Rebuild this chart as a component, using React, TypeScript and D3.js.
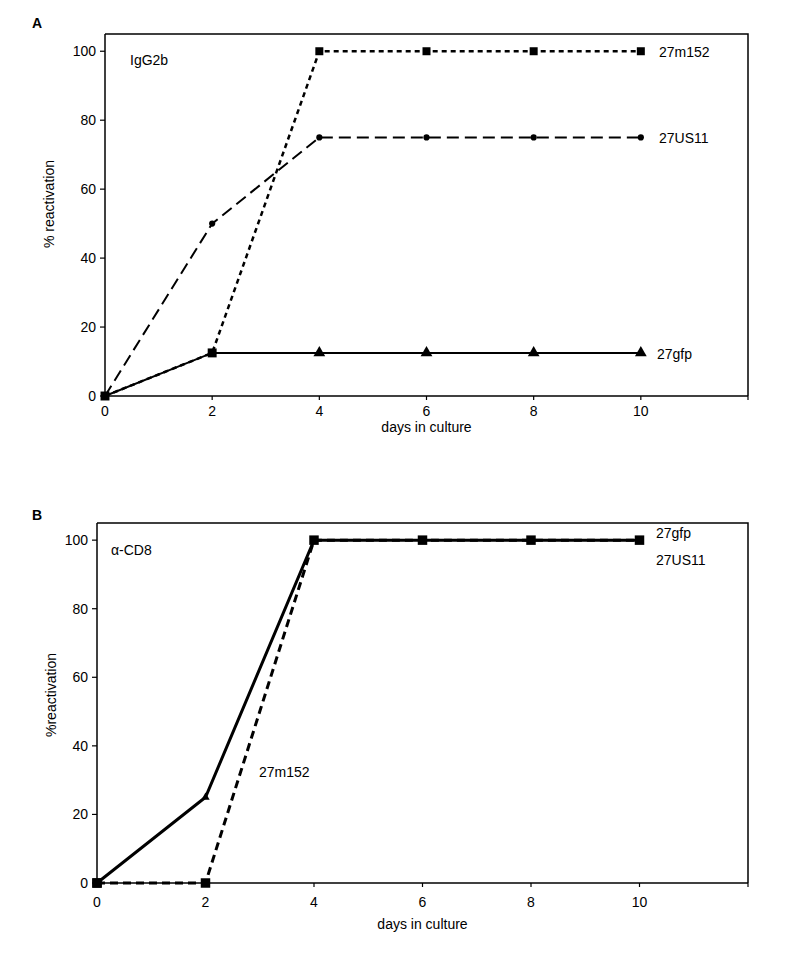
import React from "react";
import * as d3 from "d3";

const days = [0, 2, 4, 6, 8, 10];
const xTicks = [0, 2, 4, 6, 8, 10, 12];
const yTicks = [0, 20, 40, 60, 80, 100];

// Panel A (IgG2b)
const aM152 = [0, 12.5, 100, 100, 100, 100];
const aUS11 = [0, 50, 75, 75, 75, 75];
const aGfp = [0, 12.5, 12.5, 12.5, 12.5, 12.5];
const aNames = ["27m152", "27US11", "27gfp"];

// Panel B (alpha-CD8)
const bGfpUS11 = [0, 25, 100, 100, 100, 100];
const bM152 = [0, 0, 100, 100, 100, 100];
const bNames = ["27gfp", "27US11", "27m152"];

const FONT = "'Liberation Sans', Arial, Helvetica, sans-serif";
const FS = 14;

type Series = {
  values: number[];
  dash: string;
  width: number;
  markers: string[];
  msize: number[];
};

function marker(type: string, size: number) {
  if (type === "none") return null;
  const sym =
    type === "square" ? d3.symbolSquare : type === "triangle" ? d3.symbolTriangle : d3.symbolCircle;
  return d3.symbol().type(sym).size(size)() as string;
}

function Panel(props: {
  x0: number; x1: number; y0: number; y1: number;
  series: Series[];
  letter: string; letterPos: [number, number];
  tag: string; tagPos: [number, number];
  labels: { text: string; x: number; y: number }[];
  yTitle: string; yTitlePos: [number, number];
  xTitleY: number;
  tickOff: number;
}) {
  const x = d3.scaleLinear().domain([0, 12]).range([props.x0, props.x1]);
  const y = d3.scaleLinear().domain([0, 105]).range([props.y0, props.y1]);
  const line = d3.line<number>().x((_, i) => x(days[i])).y((v) => y(v));
  return (
    <g>
      <text x={props.letterPos[0]} y={props.letterPos[1]} fontFamily={FONT} fontSize={14} fontWeight="bold">
        {props.letter}
      </text>
      <path
        d={`M${x(0)},${y(105)}H${x(12)}V${y(0)}`}
        fill="none" stroke="#000" strokeWidth={1.5}
      />
      <line x1={x(0)} x2={x(0)} y1={y(105)} y2={y(0)} stroke="#000" strokeWidth={1.5} />
      <line x1={x(0)} x2={x(12)} y1={y(0)} y2={y(0)} stroke="#000" strokeWidth={1.5} />
      {xTicks.map((t) => (
        <g key={"xt" + t}>
          <line x1={x(t)} x2={x(t)} y1={y(0)} y2={y(0) + 4} stroke="#000" strokeWidth={1.2} />
          {t <= 10 && (
            <text x={x(t)} y={y(0) + props.tickOff} textAnchor="middle" fontFamily={FONT} fontSize={FS}>
              {t}
            </text>
          )}
        </g>
      ))}
      {yTicks.map((t) => (
        <g key={"yt" + t}>
          <line x1={x(0) - 5} x2={x(0)} y1={y(t)} y2={y(t)} stroke="#000" strokeWidth={1.2} />
          <text x={x(0) - 9} y={y(t) + 5} textAnchor="end" fontFamily={FONT} fontSize={FS}>
            {t}
          </text>
        </g>
      ))}
      <text
        transform={`translate(${props.yTitlePos[0]},${props.yTitlePos[1]}) rotate(-90)`}
        textAnchor="middle" fontFamily={FONT} fontSize={FS}
      >
        {props.yTitle}
      </text>
      <text x={(x(0) + x(12)) / 2} y={props.xTitleY} textAnchor="middle" fontFamily={FONT} fontSize={FS}>
        days in culture
      </text>
      <text x={props.tagPos[0]} y={props.tagPos[1]} fontFamily={FONT} fontSize={FS}>
        {props.tag}
      </text>
      {props.series.map((s, si) => (
        <path
          key={"l" + si}
          d={line(s.values) as string}
          fill="none" stroke="#000" strokeWidth={s.width}
          strokeDasharray={s.dash}
        />
      ))}
      {props.series.map((s, si) =>
        s.values.map((v, i) => {
          const d = marker(s.markers[i], s.msize[i]);
          if (!d) return null;
          return (
            <path
              key={"m" + si + "-" + i}
              d={d}
              transform={`translate(${x(days[i])},${y(v)})`}
              fill="#000"
            />
          );
        })
      )}
      {props.labels.map((l) => (
        <text key={l.text} x={l.x} y={l.y} fontFamily={FONT} fontSize={FS}>
          {l.text}
        </text>
      ))}
    </g>
  );
}

export default function App() {
  const seriesA: Series[] = [
    {
      values: aGfp, dash: "none", width: 2,
      markers: ["none", "none", "triangle", "triangle", "triangle", "triangle"],
      msize: [0, 0, 60, 60, 60, 60],
    },
    {
      values: aUS11, dash: "12,6", width: 2,
      markers: ["none", "circle", "circle", "circle", "circle", "circle"],
      msize: [0, 30, 30, 30, 30, 30],
    },
    {
      values: aM152, dash: "5,4", width: 2.5,
      markers: ["square", "square", "square", "square", "square", "square"],
      msize: [80, 80, 64, 64, 64, 64],
    },
  ];
  const seriesB: Series[] = [
    {
      values: bM152, dash: "8,5", width: 3,
      markers: ["square", "square", "none", "none", "none", "none"],
      msize: [90, 90, 0, 0, 0, 0],
    },
    {
      values: bGfpUS11, dash: "none", width: 3,
      markers: ["square", "triangle", "square", "square", "square", "square"],
      msize: [90, 30, 90, 90, 90, 90],
    },
  ];
  return (
    <svg width={800} height={965} style={{ position: "absolute", left: 0, top: 0, background: "#fff" }}>
      <rect width={800} height={965} fill="#fff" />
      <Panel
        x0={105} x1={748} y0={396} y1={34}
        series={seriesA}
        letter="A" letterPos={[32, 28]}
        tag="IgG2b" tagPos={[130, 65]}
        labels={[
          { text: aNames[0], x: 659, y: 57 },
          { text: aNames[1], x: 659, y: 143 },
          { text: aNames[2], x: 657, y: 359 },
        ]}
        yTitle="% reactivation" yTitlePos={[54, 204]}
        xTitleY={432}
        tickOff={20}
      />
      <Panel
        x0={97} x1={748} y0={883} y1={523}
        series={seriesB}
        letter="B" letterPos={[32, 520]}
        tag="α-CD8" tagPos={[111, 555]}
        labels={[
          { text: bNames[0], x: 656, y: 538 },
          { text: bNames[1], x: 656, y: 565 },
          { text: bNames[2], x: 259, y: 777 },
        ]}
        yTitle="%reactivation" yTitlePos={[56, 695]}
        xTitleY={929}
        tickOff={24}
      />
    </svg>
  );
}
